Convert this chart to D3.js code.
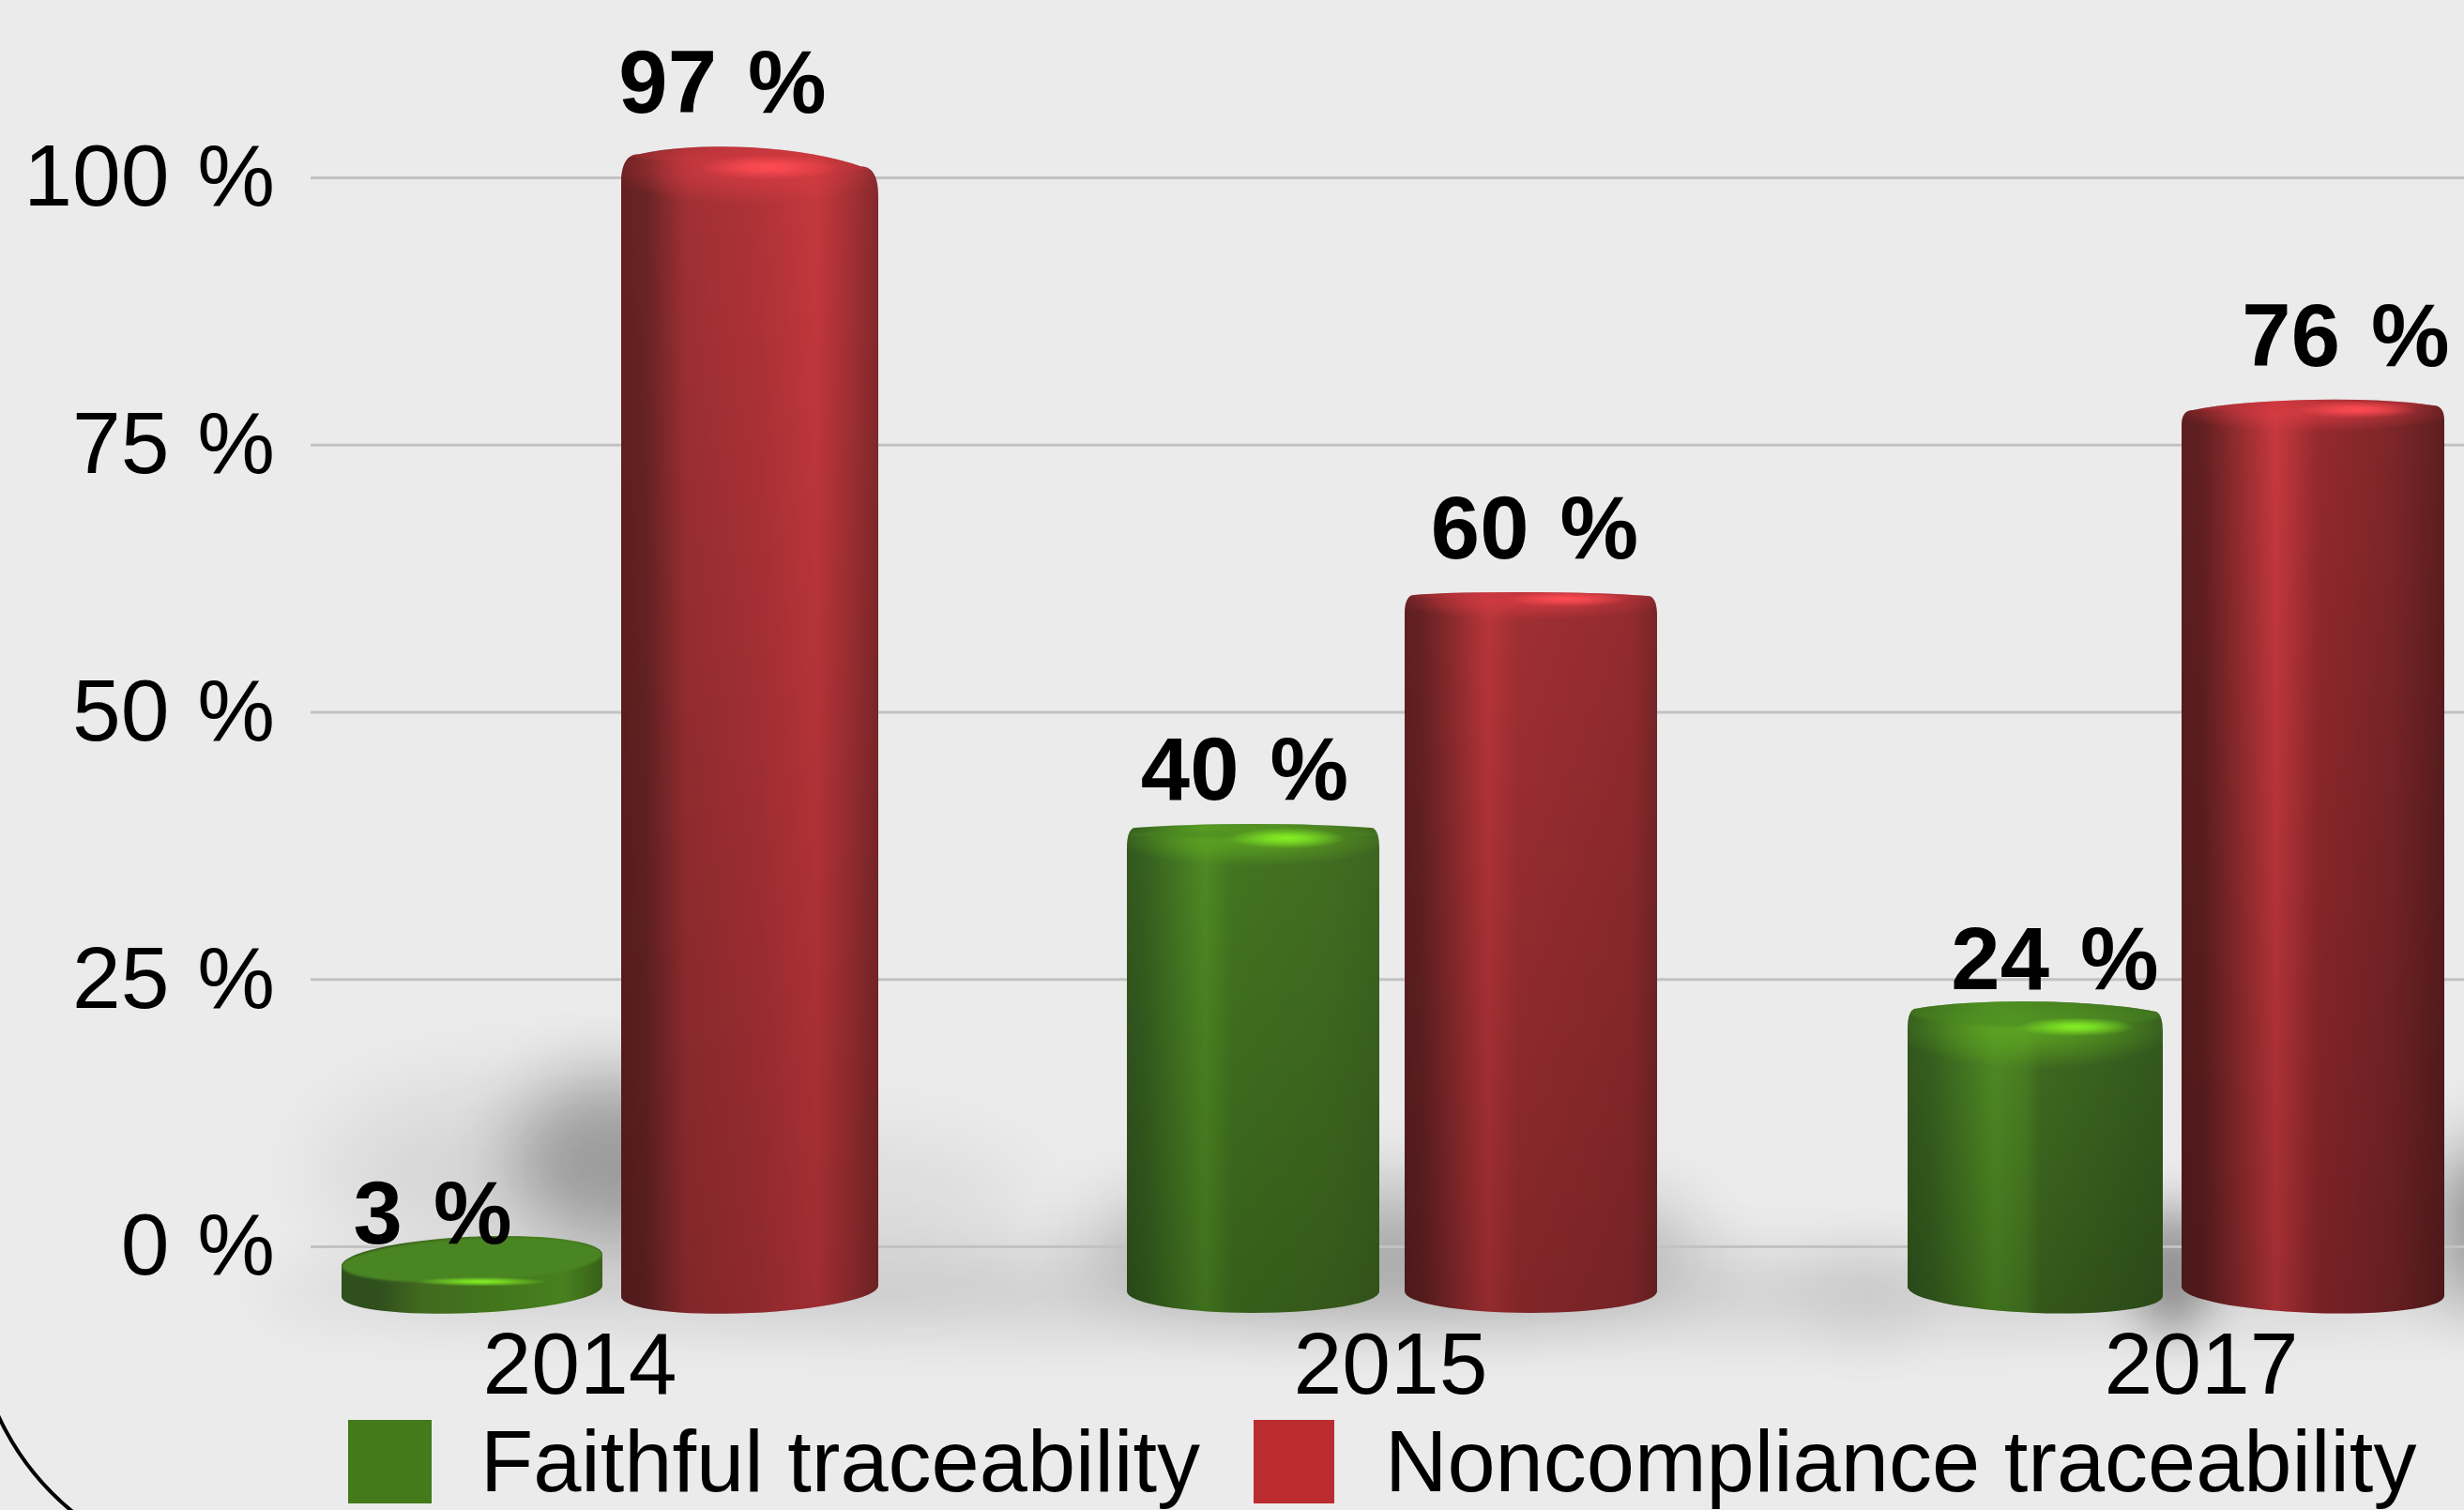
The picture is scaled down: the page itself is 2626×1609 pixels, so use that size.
<!DOCTYPE html>
<html lang="en">

<head>
    <meta charset="UTF-8">
    <title>Traceability</title>
    <style>
        html, body { margin: 0; padding: 0; background: #ebebeb; }
        svg { display: block; }
        text { font-family: "Liberation Sans", Arial, sans-serif; fill: #000; }
    </style>
</head>

<body>
    <svg id="svg" width="2626" height="1609"></svg>

    <script src="https://d3js.org/d3.v7.min.js"></script>
    <script>
        // data
        const years = ['2014', '2015', '2017']
        const seriesNames = ['Faithful traceability', 'Noncompliance traceability']
        const pctTicks = [0, 25, 50, 75, 100]
        // printed labels
        const faithfulLabels = [3, 40, 24]
        const noncomplianceLabels = [97, 60, 76]
        // where the top of each cylinder really sits against the axis (does not agree with the labels)
        const faithfulHeights = [0.9, 39.5, 22.9]
        const noncomplianceHeights = [102.8, 61.2, 79.2]

        // layout, not data
        const W = 2626, H = 1609
        const seriesColors = ['#437a1a', '#ba2c30']
        const highlightColors = ['#84f024', '#ff4b52']
        const capColors = ['#62b022', '#dc3d44']
        const faceColors = ['#4a8522', '#c5383d']
        const groupSpans = [[-254, 318], [-281, 284], [-313, 259]]
        const groupGaps = [20, 27, 20]
        const baseTilt = [-12, 0, 10]

        // per bar: arc sag, tilt of the top, corner size, face, glow, highlight, label nudge, edge trim
        const shapes = [
            [
                { sag: 25, tilt: -13, k: 0, ch: 0, f: 1, faceRy: 23, faceDy: 0, faceOp: 1, glow: 0, hiX: 10, hiRx: 70, hiRy: 5, lx: -42, ly: -7, dL: 0, dR: 2 },
                { sag: 4, tilt: 0, k: 9, ch: 22, f: 1.25, faceRy: 4, faceDy: 7, faceOp: .4, glow: 30, hiX: 36, hiRx: 62, hiRy: 11, lx: -9, ly: 26, dL: 0, dR: 0 },
                { sag: 9, tilt: 3, k: 9, ch: 22, f: 1.25, faceRy: 15, faceDy: 3, faceOp: .5, glow: 45, hiX: 44, hiRx: 62, hiRy: 10, lx: 21, ly: 13, dL: 0, dR: -4 }
            ],
            [
                { sag: 14, tilt: 13, k: 18, ch: 30, f: 1.3, faceRy: 7, faceDy: 0, faceOp: .35, glow: 40, hiX: 21, hiRx: 75, hiRy: 13, lx: -29, ly: 37, dL: 2, dR: 0 },
                { sag: 3.5, tilt: 1, k: 10, ch: 20, f: 1.25, faceRy: 4, faceDy: 0, faceOp: .35, glow: 22, hiX: 39, hiRx: 65, hiRy: 8, lx: 4, ly: 36, dL: 0, dR: 0 },
                { sag: 8.5, tilt: -5, k: 12, ch: 16, f: 1.25, faceRy: 4, faceDy: -2, faceOp: .35, glow: 24, hiX: 48, hiRx: 65, hiRy: 9, lx: 35, ly: 36, dL: -4, dR: 0 }
            ]
        ]

        // side shading per bar, left to right
        const sideStops = [
            [
                [[0, '#2f4f1d'], [.14, '#2f4f1d'], [.3, '#41691f'], [.55, '#42741c'], [.85, '#47811f'], [1, '#396019']],
                [[0, '#34591f'], [.07, '#36601f'], [.31, '#4f8b24'], [.42, '#437620'], [.8, '#426e21'], [1, '#3d6620']],
                [[0, '#34591f'], [.1, '#38621f'], [.34, '#508d24'], [.46, '#4a8023'], [.52, '#416c20'], [.85, '#38601f'], [1, '#345a1e']]
            ],
            [
                [[0, '#65201f'], [.1, '#6b2426'], [.25, '#a03034'], [.55, '#b23338'], [.76, '#c6383d'], [.9, '#a33034'], [1, '#85292c']],
                [[0, '#5f1f21'], [.07, '#672124'], [.33, '#b83539'], [.45, '#a02f33'], [.9, '#932b2f'], [1, '#782628']],
                [[0, '#5e1e20'], [.08, '#621f21'], [.36, '#c8393e'], [.52, '#95292e'], [.8, '#7e2629'], [1, '#5e1e20']]
            ]
        ]

        const svg = d3.select('#svg')
        const defs = svg.append('defs')

        svg.append('rect').attr('width', W).attr('height', H).attr('fill', '#ebebeb')

        const yScale = d3.scaleLinear().domain([0, 100]).range([1328, 189])
        const xScale = d3.scaleBand().domain(years).range([186, 2778])

        // inner scale for one group, spans differ a bit in the picture
        function innerScale(i) {
            const c = xScale(years[i]) + xScale.bandwidth() / 2
            const span = groupSpans[i][1] - groupSpans[i][0]
            const step = (span + groupGaps[i]) / 2
            return d3.scaleBand().domain(seriesNames)
                .range([c + groupSpans[i][0], c + groupSpans[i][1]])
                .paddingInner(groupGaps[i] / step)
        }

        // soft shadows on the back wall, offsets from the group centre
        const shadowSpots = [
            { year: 1, dx: 18, y: 1378, rx: 1230, ry: 42, op: .11, sd: 32 },
            { year: 0, dx: 40, y: 1235, rx: 110, ry: 90, op: .27, sd: 38 },
            { year: 0, dx: -57, y: 1250, rx: 220, ry: 90, op: .09, sd: 50 },
            { year: 0, dx: 283, y: 1290, rx: 200, ry: 70, op: .07, sd: 50 },
            { year: 1, dx: 0, y: 1325, rx: 330, ry: 60, op: .24, sd: 40 },
            { year: 2, dx: -31, y: 1350, rx: 40, ry: 70, op: .36, sd: 25 },
            { year: 2, dx: -356, y: 1380, rx: 60, ry: 50, op: .05, sd: 35 },
            { year: 2, dx: 314, y: 1300, rx: 60, ry: 80, op: .45, sd: 40 }
        ]
        // blur filters cover the whole canvas so nothing gets cut off
        Array.from(new Set(shadowSpots.map(d => d.sd))).concat([1.2]).forEach(sd => {
            defs.append('filter').attr('id', 'blur' + String(sd).replace('.', '_'))
                .attr('filterUnits', 'userSpaceOnUse')
                .attr('x', 0).attr('y', 0).attr('width', W).attr('height', H)
                .append('feGaussianBlur').attr('stdDeviation', sd)
        })

        svg.append('g').selectAll('ellipse').data(shadowSpots).enter().append('ellipse')
            .attr('cx', d => xScale(years[d.year]) + xScale.bandwidth() / 2 + d.dx)
            .attr('cy', d => d.y)
            .attr('rx', d => d.rx)
            .attr('ry', d => d.ry)
            .attr('fill', '#000')
            .attr('opacity', d => d.op)
            .attr('filter', d => `url(#blur${d.sd})`)

        // stray arc in the lower left corner
        svg.append('path')
            .attr('d', 'M-3,1506 A290,290 0 0 0 80,1613')
            .attr('fill', 'none').attr('stroke', '#000').attr('stroke-width', 4)

        // y axis with the grid lines
        const yAxis = svg.append('g')
            .attr('transform', 'translate(331,0)')
            .call(d3.axisLeft(yScale).tickValues(pctTicks).tickSize(-(W - 331)).tickPadding(38).tickFormat(d => d + ' %'))
        yAxis.select('.domain').remove()
        yAxis.selectAll('line').attr('stroke', '#c2c2c2').attr('stroke-width', 3)
        yAxis.selectAll('text').attr('font-size', 93).attr('font-family', null).attr('word-spacing', 4)

        // x axis labels
        const xAxis = svg.append('g')
            .attr('transform', 'translate(0,1400)')
            .call(d3.axisBottom(xScale).tickSize(0).tickPadding(19))
        xAxis.select('.domain').remove()
        xAxis.selectAll('text').attr('font-size', 93).attr('font-family', null)

        // gradients shared by all bars
        const shade = defs.append('linearGradient').attr('id', 'shade').attr('x1', 0).attr('x2', 0).attr('y1', 0).attr('y2', 1)
        shade.append('stop').attr('offset', 0).attr('stop-color', '#000').attr('stop-opacity', 0)
        shade.append('stop').attr('offset', 1).attr('stop-color', '#000').attr('stop-opacity', .2)

        // one cylinder
        function drawBar(si, yi, height) {
            const id = `b${si}${yi}`
            const s = shapes[si][yi]
            const inner = innerScale(yi)
            const xL = inner(seriesNames[si]) + s.dL
            const xR = inner(seriesNames[si]) + inner.bandwidth() + s.dR
            const w = xR - xL, cx = xL + w / 2
            const top = yScale(height)
            const mid = top + s.sag
            const yPL = mid - s.tilt / 2, yPR = mid + s.tilt / 2
            const c = (w - 2 * s.k) / 2
            const rx = c * s.f
            const ry = s.sag / (1 - Math.sqrt(1 - 1 / (s.f * s.f)))
            const rot = Math.atan2(s.tilt, 2 * c) * 180 / Math.PI
            const bottomMid = yScale(0) + 48, bt = baseTilt[yi]
            const bRot = Math.atan2(bt, w) * 180 / Math.PI
            const body = [
                `M${xL},${bottomMid - bt / 2}`,
                `L${xL},${yPL + s.ch}`,
                `C${xL},${yPL + s.ch * .35} ${xL + s.k * .35},${yPL} ${xL + s.k},${yPL}`,
                `A${rx},${ry} ${rot} 0 1 ${xR - s.k},${yPR}`,
                `C${xR - s.k * .35},${yPR} ${xR},${yPR + s.ch * .35} ${xR},${yPR + s.ch}`,
                `L${xR},${bottomMid + bt / 2}`,
                `A${w / 2},23 ${bRot} 0 1 ${xL},${bottomMid - bt / 2}Z`
            ].join(' ')

            const side = defs.append('linearGradient').attr('id', id + 'side')
            sideStops[si][yi].forEach(p => side.append('stop').attr('offset', p[0]).attr('stop-color', p[1]))
            defs.append('clipPath').attr('id', id + 'clip').append('path').attr('d', body)

            const g = svg.append('g')
            g.append('path').attr('d', body).attr('fill', `url(#${id}side)`)
            // the flat disc has no room for the darkening
            if (s.glow > 0) g.append('path').attr('d', body).attr('fill', 'url(#shade)')

            const cap = g.append('g').attr('clip-path', `url(#${id}clip)`)
            const faceY = mid + s.faceDy
            const rimY = faceY + s.faceRy

            // glow under the rim, fades sideways so the dark edges stay dark
            if (s.glow > 0) {
                const glow = defs.append('radialGradient').attr('id', id + 'glow')
                glow.append('stop').attr('offset', 0).attr('stop-color', capColors[si]).attr('stop-opacity', .8)
                glow.append('stop').attr('offset', .5).attr('stop-color', capColors[si]).attr('stop-opacity', .45)
                glow.append('stop').attr('offset', 1).attr('stop-color', capColors[si]).attr('stop-opacity', 0)
                cap.append('ellipse')
                    .attr('cx', cx).attr('cy', rimY)
                    .attr('rx', w * .56).attr('ry', s.glow)
                    .attr('fill', `url(#${id}glow)`)
            }

            // top face, only a hard shape on the flat disc
            cap.append('ellipse')
                .attr('cx', cx).attr('cy', faceY).attr('rx', w / 2).attr('ry', s.faceRy)
                .attr('transform', `rotate(${rot} ${cx} ${faceY})`)
                .attr('fill', faceColors[si])
                .attr('opacity', s.faceOp)
                .attr('filter', 'url(#blur1_2)')

            const hi = defs.append('radialGradient').attr('id', id + 'hi')
            hi.append('stop').attr('offset', 0).attr('stop-color', highlightColors[si]).attr('stop-opacity', 1)
            hi.append('stop').attr('offset', .35).attr('stop-color', highlightColors[si]).attr('stop-opacity', .75)
            hi.append('stop').attr('offset', 1).attr('stop-color', highlightColors[si]).attr('stop-opacity', 0)
            cap.append('ellipse')
                .attr('cx', cx + s.hiX).attr('cy', rimY).attr('rx', s.hiRx).attr('ry', s.hiRy)
                .attr('fill', `url(#${id}hi)`)

            return { cx, top, s }
        }

        const heights = [faithfulHeights, noncomplianceHeights]
        const printed = [faithfulLabels, noncomplianceLabels]
        const placed = []
        years.forEach((yr, yi) => {
            seriesNames.forEach((name, si) => {
                const b = drawBar(si, yi, heights[si][yi])
                placed.push({ x: b.cx + b.s.lx, y: b.top - b.s.ly, label: printed[si][yi] })
            })
        })

        // value labels stay on top of the bars
        svg.append('g').selectAll('text').data(placed).enter().append('text')
            .attr('x', d => d.x)
            .attr('y', d => d.y)
            .attr('text-anchor', 'middle')
            .attr('font-weight', 'bold')
            .attr('font-size', 94)
            .attr('word-spacing', 7)
            .text(d => d.label + ' %')

        // legend
        const legendX = [371, 1336]
        const legendTextX = [512, 1476]
        const legendSize = [89, 86]
        seriesNames.forEach((name, i) => {
            svg.append('rect').attr('x', legendX[i]).attr('y', 1513)
                .attr('width', legendSize[i]).attr('height', 89).attr('fill', seriesColors[i])
            svg.append('text').attr('x', legendTextX[i]).attr('y', 1589)
                .attr('font-size', 92).text(name)
        })
    </script>
</body>

</html>
